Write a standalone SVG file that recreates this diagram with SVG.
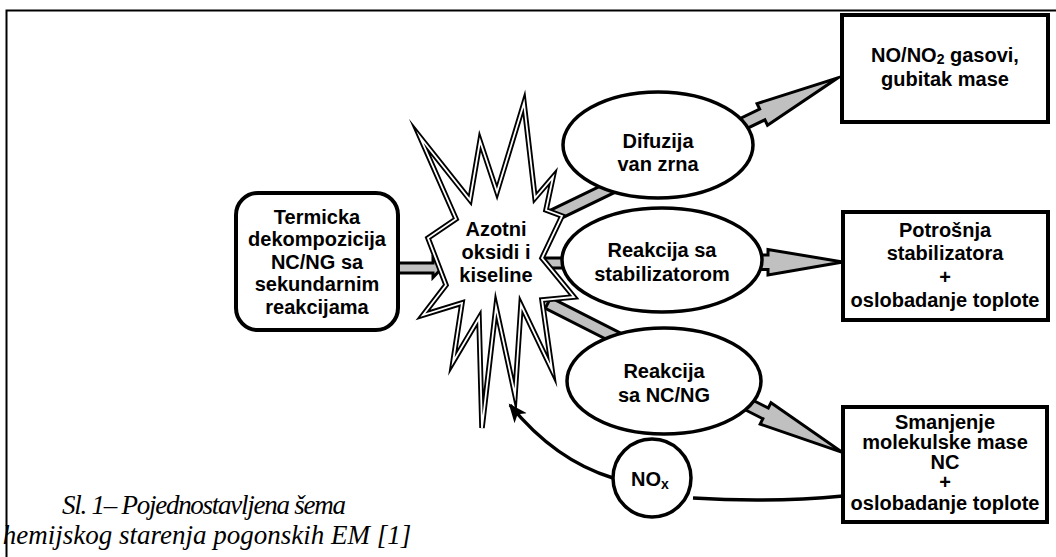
<svg xmlns="http://www.w3.org/2000/svg" width="1056" height="557" viewBox="0 0 1056 557">
  <defs>
    <style>
      .t { font-family: "Liberation Sans", Arial, sans-serif; font-weight: bold; font-size: 20px; text-anchor: middle; fill: #000; }
      .cap { font-family: "Liberation Serif", "Times New Roman", serif; font-style: italic; font-size: 27px; text-anchor: middle; fill: #000; }
      .box { fill: #fff; stroke: #000; stroke-width: 4; }
      .ell { fill: #fff; stroke: #000; stroke-width: 3.5; }
      .arr { fill: #c0c0c0; stroke: #000; stroke-width: 3; stroke-linejoin: miter; stroke-miterlimit: 10; }
      .line { fill: none; stroke: #000; stroke-width: 3.5; }
    </style>
    <marker id="ah" markerWidth="20" markerHeight="20" viewBox="0 0 20 20" refX="17" refY="10" orient="auto" markerUnits="userSpaceOnUse">
      <path d="M0,2 L19,10 L0,18 L5,10 Z" fill="#000"/>
    </marker>
  </defs>
  <rect width="1056" height="557" fill="#fff"/>
  <path d="M6.5,557 L6.5,10.5 L1056,10.5" fill="none" stroke="#000" stroke-width="2"/>

  <g id="connectors">
    <polygon class="arr" transform="translate(548,218) rotate(-25.8)" points="0,-6 238,-6 238,-12 322,0 238,12 238,6 0,6"/>
    <polygon class="arr" transform="translate(548,303) rotate(26.9)" points="0,-6 244,-6 244,-12 330,0 244,12 244,6 0,6"/>
    <polygon class="arr" points="538,258 572,258 572,268 538,268"/>
    <polygon class="arr" points="752,255 768,255 768,249.5 843,262 768,275 768,269.5 752,269.5"/>
    <polygon class="arr" points="398,263 433,263 433,258.5 442,268 433,277.5 433,273 398,273"/>
    <path class="line" d="M843,496 Q770,503 693,498"/>
    <path class="line" d="M613,478 C580,468 545,448 510,405" marker-end="url(#ah)"/>
  </g>

  <g id="star">
    <polygon points="524,103 535,198 553,177 546,210 562,216 542,258 574,297 542,300 552,370 521,305 515,395 496,307 482,428 479,318 453,362 462,303 423,315 446,285 428,238 456,219 420,137 470,200 480,141 497,192" fill="#fff" stroke="#000" stroke-width="5.5" stroke-linejoin="miter" stroke-miterlimit="12"/>
    <polygon points="524,103 535,198 553,177 546,210 562,216 542,258 574,297 542,300 552,370 521,305 515,395 496,307 482,428 479,318 453,362 462,303 423,315 446,285 428,238 456,219 420,137 470,200 480,141 497,192" fill="none" stroke="#fff" stroke-width="1.8" stroke-linejoin="miter" stroke-miterlimit="12"/>
    <text class="t" x="496" y="236">Azotni</text>
    <text class="t" x="496" y="259">oksidi i</text>
    <text class="t" x="496" y="282">kiseline</text>
  </g>

  <g id="termicka">
    <rect class="box" x="236" y="193" width="162" height="137" rx="22" ry="22"/>
    <text class="t" x="317" y="224">Termicka</text>
    <text class="t" x="317" y="246">dekompozicija</text>
    <text class="t" x="317" y="269">NC/NG sa</text>
    <text class="t" x="317" y="291">sekundarnim</text>
    <text class="t" x="317" y="314">reakcijama</text>
  </g>

  <g id="difuzija">
    <ellipse class="ell" cx="658" cy="145" rx="95" ry="53"/>
    <text class="t" x="658" y="148">Difuzija</text>
    <text class="t" x="658" y="171">van zrna</text>
  </g>

  <g id="stabilizator">
    <ellipse class="ell" cx="662" cy="260" rx="100" ry="52"/>
    <text class="t" x="662" y="257">Reakcija sa</text>
    <text class="t" x="662" y="281">stabilizatorom</text>
  </g>

  <g id="ncng">
    <ellipse class="ell" cx="664" cy="381" rx="97" ry="53"/>
    <text class="t" x="664" y="378">Reakcija</text>
    <text class="t" x="664" y="402">sa NC/NG</text>
  </g>

  <g id="nox">
    <circle class="ell" cx="652" cy="478" r="39"/>
    <text class="t" x="650" y="486">NO<tspan font-size="14" dy="3">x</tspan></text>
  </g>

  <g id="gasovi">
    <rect class="box" x="842" y="15" width="206" height="107"/>
    <text class="t" x="945" y="62">NO/NO<tspan font-size="14" dy="2">2</tspan><tspan dy="-2"> gasovi,</tspan></text>
    <text class="t" x="945" y="86">gubitak mase</text>
  </g>

  <g id="potrosnja">
    <rect class="box" x="843" y="212" width="205" height="108"/>
    <text class="t" x="945" y="237">Potrošnja</text>
    <text class="t" x="945" y="260">stabilizatora</text>
    <text class="t" x="945" y="284">+</text>
    <text class="t" x="945" y="307">oslobadanje toplote</text>
  </g>

  <g id="smanjenje">
    <rect class="box" x="843" y="407" width="204" height="115"/>
    <text class="t" x="945" y="429">Smanjenje</text>
    <text class="t" x="945" y="449">molekulske mase</text>
    <text class="t" x="945" y="469">NC</text>
    <text class="t" x="945" y="489">+</text>
    <text class="t" x="945" y="510">oslobadanje toplote</text>
  </g>

  <g id="caption">
    <text class="cap" x="204" y="514" textLength="284" lengthAdjust="spacing">Sl. 1– Pojednostavljena šema</text>
    <text class="cap" x="207" y="544">hemijskog starenja pogonskih EM [1]</text>
  </g>
</svg>
